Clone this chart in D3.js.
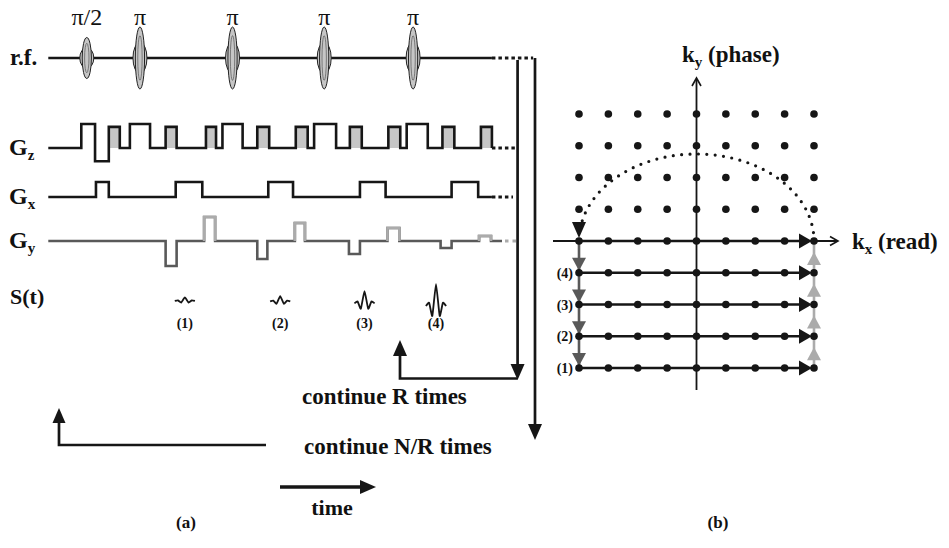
<!DOCTYPE html>
<html>
<head>
<meta charset="utf-8">
<script src="https://cdn.jsdelivr.net/npm/d3@7"></script>
<style>
  html, body { margin: 0; padding: 0; background: #fff; }
  svg { display: block; }
  text { font-family: "Liberation Serif", "Times New Roman", serif; fill: #111; }
</style>
</head>
<body>
<svg id="chart" width="949" height="548"></svg>
<script>
// ---------------- sequence timing (ms) ----------------
const rfTimes  = [4.2, 10.0, 20.1, 30.1, 39.8];
const rfFlips  = [90, 180, 180, 180, 180];
const rfLabels = ["π/2", "π", "π", "π", "π"];

// slice-select gradient lobes
const gzSliceStart = [3.6, 8.9, 19.0, 29.0, 39.1];
const gzSliceEnd   = [5.1, 11.1, 21.2, 31.4, 41.4];
const gzSliceAmp   = 1.0;
const gzRefocus    = [5.1, 6.6];
const gzRefocusAmp = -0.55;
// crusher lobes around each refocusing pulse
const gzCrushStart = [6.6, 12.8, 17.2, 22.8, 27.0, 32.9, 37.1, 43.0, 47.2];
const gzCrushEnd   = [7.8, 14.0, 18.3, 24.1, 28.3, 34.2, 38.4, 44.3, 48.4];
const gzCrushAmp   = 0.88;

// read-out gradient lobes (first one is the prephaser)
const gxStart = [5.2, 13.9, 24.0, 34.0, 44.0];
const gxEnd   = [6.6, 16.8, 26.7, 36.8, 46.9];

// phase-encode blips and their rewinders
const gyStart = [12.8, 17.0, 22.8, 26.9, 32.8, 37.0, 42.8, 47.0];
const gyEnd   = [14.0, 18.2, 23.9, 28.0, 34.0, 38.3, 44.0, 48.3];
const gyAmp   = [-1.0, 0.96, -0.72, 0.72, -0.52, 0.52, -0.28, 0.2];

// echo signals
const echoLabels  = ["(1)", "(2)", "(3)", "(4)"];
const echoTimes   = [14.9, 25.3, 34.5, 42.3];
const echoAmp     = [0.16, 0.24, 0.55, 1.0];
const echoOffsets = [-1.1, -0.75, -0.4, 0, 0.4, 0.75, 1.1];
const echoShape   = [0, 0.15, -0.45, 1, -0.45, 0.15, 0];

// sequence end and loop-back times
const tSolidEnd = 48.4;
const tRfDotEnd = 52.9;
const tGzDotEnd = 50.9;
const tGxDotEnd = 50.7;
const tGyDarkEnd = 49.5;
const tGyDotEnd = 51.1;
const tInnerLoop = 51.2;
const tOuterLoop = 53.1;

// k-space grid
const kSteps = [-4, -3, -2, -1, 0, 1, 2, 3, 4];
const kRowsAcquired = [0, -1, -2, -3, -4];
const kRowLabels = ["", "(4)", "(3)", "(2)", "(1)"];

// ---------------- drawing ----------------
const svg = d3.select("#chart");
const BLACK = "#161616", DARK = "#595959", LIGHT = "#ababab", FILL = "#c6c6c6";

const x = d3.scaleLinear().domain([0, 53.1]).range([48.3, 535]);
const rfY = 58, gzY = 148, gxY = 197, gyY = 241;
const gz = d3.scaleLinear().domain([-1, 1]).range([gzY + 24, gzY - 24]);
const gx = d3.scaleLinear().domain([0, 1]).range([gxY, gxY - 15]);
const gy = d3.scaleLinear().domain([-1, 1]).range([gyY + 25, gyY - 25]);
const rfHalf = d3.scaleLinear().domain([90, 180]).range([20.5, 31]);
const sig = d3.scaleLinear().domain([0, 1]).range([0, 22]);

function arrowHead(g, tx, ty, ang, len, half, color) {
  const bx = tx - len * Math.cos(ang), by = ty - len * Math.sin(ang);
  const px = -Math.sin(ang) * half, py = Math.cos(ang) * half;
  g.append("path")
    .attr("d", `M${tx},${ty}L${bx + px},${by + py}L${bx - px},${by - py}Z`)
    .attr("fill", color);
}
function openHead(g, tx, ty, ang, len, half, color) {
  const bx = tx - len * Math.cos(ang), by = ty - len * Math.sin(ang);
  const px = -Math.sin(ang) * half, py = Math.cos(ang) * half;
  g.append("path")
    .attr("d", `M${bx + px},${by + py}L${tx},${ty}L${bx - px},${by - py}`)
    .attr("fill", "none").attr("stroke", color).attr("stroke-width", 1.6);
}
function stepPoints(lobes, t0, t1) {
  const pts = [[t0, 0]];
  lobes.sort((a, b) => a.s - b.s).forEach(l => {
    pts.push([l.s, 0], [l.s, l.a], [l.e, l.a], [l.e, 0]);
  });
  pts.push([t1, 0]);
  return pts;
}

// ---- row labels ----
const labels = svg.append("g").attr("font-weight", "bold");
labels.append("text").attr("x", 10).attr("y", 65).attr("font-size", 23).text("r.f.");
[["z", gzY], ["x", gxY], ["y", gyY]].forEach(([s, yy]) => {
  const t = labels.append("text").attr("x", 9).attr("y", yy + 7).attr("font-size", 24);
  t.append("tspan").text("G");
  t.append("tspan").attr("font-size", 15).attr("dy", 5).text(s);
});
labels.append("text").attr("x", 10).attr("y", 304).attr("font-size", 22).text("S(t)");

// ---- r.f. line and pulses ----
const rf = svg.append("g");
rf.append("line").attr("x1", x(0)).attr("x2", x(tSolidEnd)).attr("y1", rfY).attr("y2", rfY)
  .attr("stroke", BLACK).attr("stroke-width", 2.7);
rf.append("line").attr("x1", x(tSolidEnd)).attr("x2", x(tRfDotEnd)).attr("y1", rfY).attr("y2", rfY)
  .attr("stroke", BLACK).attr("stroke-width", 3).attr("stroke-dasharray", "3.5,3");
rfTimes.forEach((t, i) => {
  const h = rfHalf(rfFlips[i]);
  const cx = x(t);
  const p = rf.append("g");
  p.append("ellipse").attr("cx", cx).attr("cy", rfY).attr("rx", 7).attr("ry", h * 0.5)
    .attr("fill", FILL).attr("stroke", "#222").attr("stroke-width", 1);
  p.append("ellipse").attr("cx", cx).attr("cy", rfY).attr("rx", 4.6).attr("ry", h)
    .attr("fill", FILL).attr("stroke", "#222").attr("stroke-width", 1);
  p.append("ellipse").attr("cx", cx).attr("cy", rfY).attr("rx", 2.2).attr("ry", h * 0.72)
    .attr("fill", "none").attr("stroke", "#555").attr("stroke-width", 0.7);
  rf.append("text").attr("x", cx).attr("y", 25).attr("text-anchor", "middle")
    .attr("font-size", 24).text(rfLabels[i]);
});

const line = d3.line();

// ---- Gz ----
const gzG = svg.append("g");
const gzLobes = [];
gzSliceStart.forEach((s, i) => gzLobes.push({ s, e: gzSliceEnd[i], a: gzSliceAmp }));
gzLobes.push({ s: gzRefocus[0], e: gzRefocus[1], a: gzRefocusAmp });
gzCrushStart.forEach((s, i) => gzLobes.push({ s, e: gzCrushEnd[i], a: gzCrushAmp }));
gzCrushStart.forEach((s, i) => {
  gzG.append("rect").attr("x", x(s)).attr("y", gz(gzCrushAmp))
    .attr("width", x(gzCrushEnd[i]) - x(s)).attr("height", gz(0) - gz(gzCrushAmp))
    .attr("fill", FILL);
});
gzG.append("path")
  .attr("d", line(stepPoints(gzLobes, 0, tSolidEnd).map(d => [x(d[0]), gz(d[1])])))
  .attr("fill", "none").attr("stroke", BLACK).attr("stroke-width", 2.6);
gzG.append("line").attr("x1", x(tSolidEnd)).attr("x2", x(tGzDotEnd)).attr("y1", gz(0)).attr("y2", gz(0))
  .attr("stroke", BLACK).attr("stroke-width", 3).attr("stroke-dasharray", "3.5,3");

// ---- Gx ----
const gxG = svg.append("g");
const gxLobes = gxStart.map((s, i) => ({ s, e: gxEnd[i], a: 1 }));
gxG.append("path")
  .attr("d", line(stepPoints(gxLobes, 0, tSolidEnd).map(d => [x(d[0]), gx(d[1])])))
  .attr("fill", "none").attr("stroke", BLACK).attr("stroke-width", 2.6);
gxG.append("line").attr("x1", x(tSolidEnd)).attr("x2", x(tGxDotEnd)).attr("y1", gx(0)).attr("y2", gx(0))
  .attr("stroke", BLACK).attr("stroke-width", 3).attr("stroke-dasharray", "3.5,3");

// ---- Gy ----
const gyG = svg.append("g");
const gyLobes = gyStart.map((s, i) => ({ s, e: gyEnd[i], a: gyAmp[i] }));
gyG.append("path")
  .attr("d", line(stepPoints(gyLobes, 0, tGyDarkEnd).map(d => [x(d[0]), gy(d[1])])))
  .attr("fill", "none").attr("stroke", DARK).attr("stroke-width", 2.6);
gyLobes.filter(l => l.a > 0).forEach(l => {
  gyG.append("path")
    .attr("d", line([[l.s, 0], [l.s, l.a], [l.e, l.a], [l.e, 0]].map(d => [x(d[0]), gy(d[1])])))
    .attr("fill", "none").attr("stroke", LIGHT).attr("stroke-width", 2.6);
});
gyG.append("line").attr("x1", x(tGyDarkEnd) + 3).attr("x2", x(tGyDotEnd)).attr("y1", gy(0)).attr("y2", gy(0))
  .attr("stroke", LIGHT).attr("stroke-width", 3).attr("stroke-dasharray", "3.5,4");

// ---- echo signals ----
const sG = svg.append("g");
const sigLine = d3.line().curve(d3.curveCardinal.tension(0.55));
const echoMid = 300;
echoTimes.forEach((tc, i) => {
  const a = echoAmp[i];
  const vals = echoShape.map(v => v * a);
  const base = echoMid + sig((d3.max(vals) + d3.min(vals)) / 2);
  const pts = echoOffsets.map((o, j) => [x(tc + o), base - sig(vals[j])]);
  sG.append("path").attr("d", sigLine(pts)).attr("fill", "none")
    .attr("stroke", BLACK).attr("stroke-width", 1.8);
  sG.append("text").attr("x", x(tc)).attr("y", 328).attr("text-anchor", "middle")
    .attr("font-size", 14).attr("font-weight", "bold").text(echoLabels[i]);
});

// ---- loop arrows ----
const loop = svg.append("g").attr("fill", "none").attr("stroke", BLACK).attr("stroke-width", 2.7);
const xin = x(tInnerLoop), xout = x(tOuterLoop);
loop.append("line").attr("x1", xout).attr("x2", xout).attr("y1", rfY).attr("y2", 428);
arrowHead(svg, xout, 440, Math.PI / 2, 16, 7, BLACK);
loop.append("line").attr("x1", xin).attr("x2", xin).attr("y1", rfY + 2).attr("y2", 368);
arrowHead(svg, xin, 380, Math.PI / 2, 16, 7, BLACK);
const xUp = 400;
loop.append("path").attr("d", `M${xin},378.5H${xUp}V352`);
arrowHead(svg, xUp, 340, -Math.PI / 2, 16, 7, BLACK);
loop.append("path").attr("d", `M266,445H59V420`);
arrowHead(svg, 59, 408, -Math.PI / 2, 15, 6.5, BLACK);

// time arrow
svg.append("line").attr("x1", 280).attr("x2", 362).attr("y1", 487).attr("y2", 487)
  .attr("stroke", BLACK).attr("stroke-width", 3.6);
arrowHead(svg, 376, 487, 0, 16, 7, BLACK);

const txt = svg.append("g").attr("font-weight", "bold");
txt.append("text").attr("x", 302).attr("y", 404).attr("font-size", 23).text("continue R times");
txt.append("text").attr("x", 304).attr("y", 454).attr("font-size", 23).text("continue N/R times");
txt.append("text").attr("x", 332).attr("y", 515).attr("text-anchor", "middle").attr("font-size", 22).text("time");
txt.append("text").attr("x", 186).attr("y", 528).attr("text-anchor", "middle").attr("font-size", 17).text("(a)");
txt.append("text").attr("x", 718).attr("y", 528).attr("text-anchor", "middle").attr("font-size", 17).text("(b)");

// ---------------- k-space ----------------
const kx = d3.scaleLinear().domain([-4, 4]).range([579, 814]);
const ky = d3.scaleLinear().domain([-4, 4]).range([368, 114]);
const k = svg.append("g");

// axes
k.append("line").attr("x1", kx(0)).attr("x2", kx(0)).attr("y1", 390).attr("y2", 79)
  .attr("stroke", BLACK).attr("stroke-width", 1.8);
openHead(k, kx(0), 78, -Math.PI / 2, 8, 4.5, BLACK);
k.append("line").attr("x1", 553).attr("x2", 837).attr("y1", ky(0)).attr("y2", ky(0))
  .attr("stroke", BLACK).attr("stroke-width", 1.8);
openHead(k, 838, ky(0), 0, 8, 4.5, BLACK);

// acquired lines
kRowsAcquired.forEach(r => {
  k.append("line").attr("x1", kx(-4)).attr("x2", kx(4) - 8).attr("y1", ky(r)).attr("y2", ky(r))
    .attr("stroke", BLACK).attr("stroke-width", 2.6);
  arrowHead(k, kx(4) - 2, ky(r), 0, 13, 7.5, BLACK);
});

// phase-encode steps (left, going down) and rewinders (right, going up)
k.append("line").attr("x1", kx(-4)).attr("x2", kx(-4)).attr("y1", ky(0)).attr("y2", ky(-4))
  .attr("stroke", DARK).attr("stroke-width", 2.6);
k.append("line").attr("x1", kx(4)).attr("x2", kx(4)).attr("y1", ky(-4)).attr("y2", ky(0))
  .attr("stroke", LIGHT).attr("stroke-width", 2.6);
kRowsAcquired.slice(1).forEach(r => {
  arrowHead(k, kx(-4), ky(r) - 2, Math.PI / 2, 13, 7, DARK);
  arrowHead(k, kx(4), ky(r + 1) + 11, -Math.PI / 2, 13, 7, LIGHT);
});

// sample grid
kSteps.forEach(r => kSteps.forEach(c => {
  k.append("circle").attr("cx", kx(c)).attr("cy", ky(r)).attr("r", 3.8).attr("fill", BLACK);
}));

// row labels
kRowsAcquired.forEach((r, i) => {
  if (!kRowLabels[i]) return;
  k.append("text").attr("x", 573).attr("y", ky(r) + 5).attr("text-anchor", "end")
    .attr("font-size", 14).attr("font-weight", "bold").text(kRowLabels[i]);
});

// dotted return from the last echo train to the next starting line
const rx = (kx(4) - kx(-4)) / 2, ry = 87, cxE = kx(0), cyE = ky(0);
const thEnd = Math.PI - Math.asin(20 / ry);
const arcPts = d3.range(0, 121).map(i => {
  const th = thEnd * i / 120;
  return [cxE + rx * Math.cos(th), cyE - ry * Math.sin(th)];
});
k.append("path").attr("d", d3.line()(arcPts)).attr("fill", "none")
  .attr("stroke", BLACK).attr("stroke-width", 3.2).attr("stroke-linecap", "round")
  .attr("stroke-dasharray", "0,8.4");
arrowHead(k, kx(-4), ky(0) - 3, Math.PI / 2, 16, 7, BLACK);

// axis titles
const kt1 = k.append("text").attr("x", 682).attr("y", 62).attr("font-size", 23).attr("font-weight", "bold");
kt1.append("tspan").text("k");
kt1.append("tspan").attr("font-size", 15).attr("dy", 5).text("y");
kt1.append("tspan").attr("dy", -5).text(" (phase)");
const kt2 = k.append("text").attr("x", 852).attr("y", 249).attr("font-size", 23).attr("font-weight", "bold");
kt2.append("tspan").text("k");
kt2.append("tspan").attr("font-size", 15).attr("dy", 5).text("x");
kt2.append("tspan").attr("dy", -5).text(" (read)");
</script>
</body>
</html>
